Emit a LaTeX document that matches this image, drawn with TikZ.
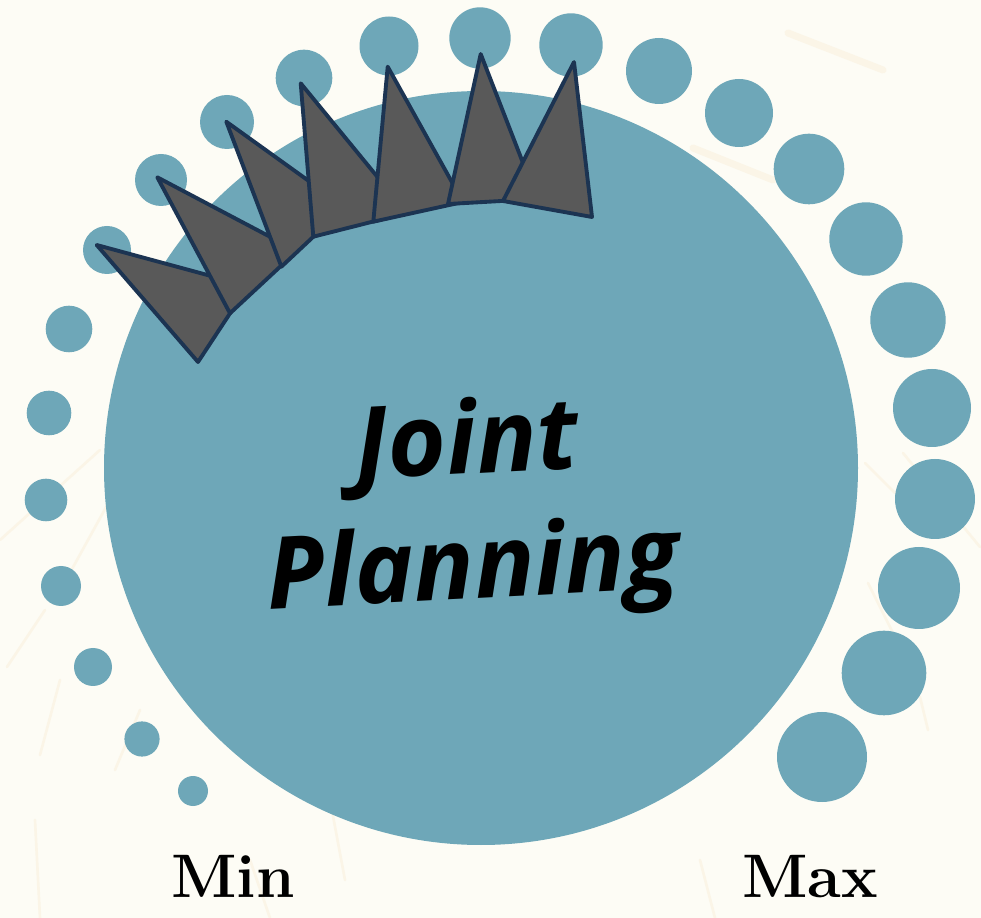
\documentclass[tikz,border=0pt]{standalone}
\usepackage{fontspec}
\newfontfamily\handfont{Open Sans}
\definecolor{paper}{RGB}{253,252,245}
\definecolor{planblue}{RGB}{110,167,184}
\definecolor{spikegray}{RGB}{89,89,89}
\definecolor{spikeline}{RGB}{28,52,82}
\definecolor{streak}{RGB}{251,245,231}

\begin{document}
\begin{tikzpicture}[x=0.02cm, y=-0.02cm,
    spike/.style={fill=spikegray, draw=spikeline, line width=2.2pt, line join=round},
    bead/.style={fill=planblue},
    streakline/.style={draw=streak, line width=#1, line cap=round},
    streakline/.default=1.5pt,
    minmax/.style={anchor=base, font=\bfseries\fontsize{35}{40}\selectfont}]
  \fill[paper] (0,0) rectangle (981,918);
  \useasboundingbox (0,0) rectangle (981,918);

  % paper grain
  \draw[streakline=4pt] (788,33) -- (883,70);
  \draw[streakline=4pt] (693,148) -- (773,180);
  \foreach \a/\b/\c/\d in {903/453/980/547, 865/463/895/493, 868/583/893/633,
      920/697/928/730, 7/667/45/610, 40/755/60/680, 115/770/140/710,
      35/820/40/918, 0/540/100/450, 55/600/110/500, 250/860/270/918,
      700/860/715/918, 330/800/345/880}
    \draw[streakline] (\a,\b) -- (\c,\d);

  % dots growing from Min to Max
  \foreach \x/\y/\r in {193/791/15, 142/739/17.6, 93/667/19, 61/586/20,
      46/500/21.3, 49/413/22.3, 69/329/23.3, 107/250/24, 161/180/26,
      227/122/27, 304/78/28.3, 389/46/29.5, 480/38/30.7, 571/45/31.7,
      659/71/33, 739/113/34, 809/169/35.3, 866/239/36.7, 908/320/37.7,
      932/408/39, 935/499/40, 919/588/41, 884/673/42.3, 822/757/45}
    \fill[bead] (\x,\y) circle (\r);

  \fill[planblue] (481,468) circle (377);

  % spikes along the top of the circle
  \draw[spike] (96.7,245) -- (198,362) -- (248,286) -- cycle;
  \draw[spike] (157.3,177.3) -- (230,313.3) -- (297,251) -- cycle;
  \draw[spike] (226.3,121.7) -- (281.4,266.7) -- (345,207) -- cycle;
  \draw[spike] (300.7,83.3) -- (313.3,236.7) -- (407,213) -- cycle;
  \draw[spike] (387.7,66.7) -- (373.3,221.7) -- (463,202) -- cycle;
  \draw[spike] (480.7,54) -- (448,204) -- (537,199) -- cycle;
  \draw[spike] (574,62) -- (503,201) -- (592,217) -- cycle;

  \node[rotate=3, align=center, font=\handfont\bfseries\itshape\fontsize{57}{71}\selectfont]
    (joint) at (470,510) {Joint\\Planning};

  \node[minmax] (min) at (233,897) {Min};
  \node[minmax] (max) at (810,897) {Max};
\end{tikzpicture}
\end{document}
